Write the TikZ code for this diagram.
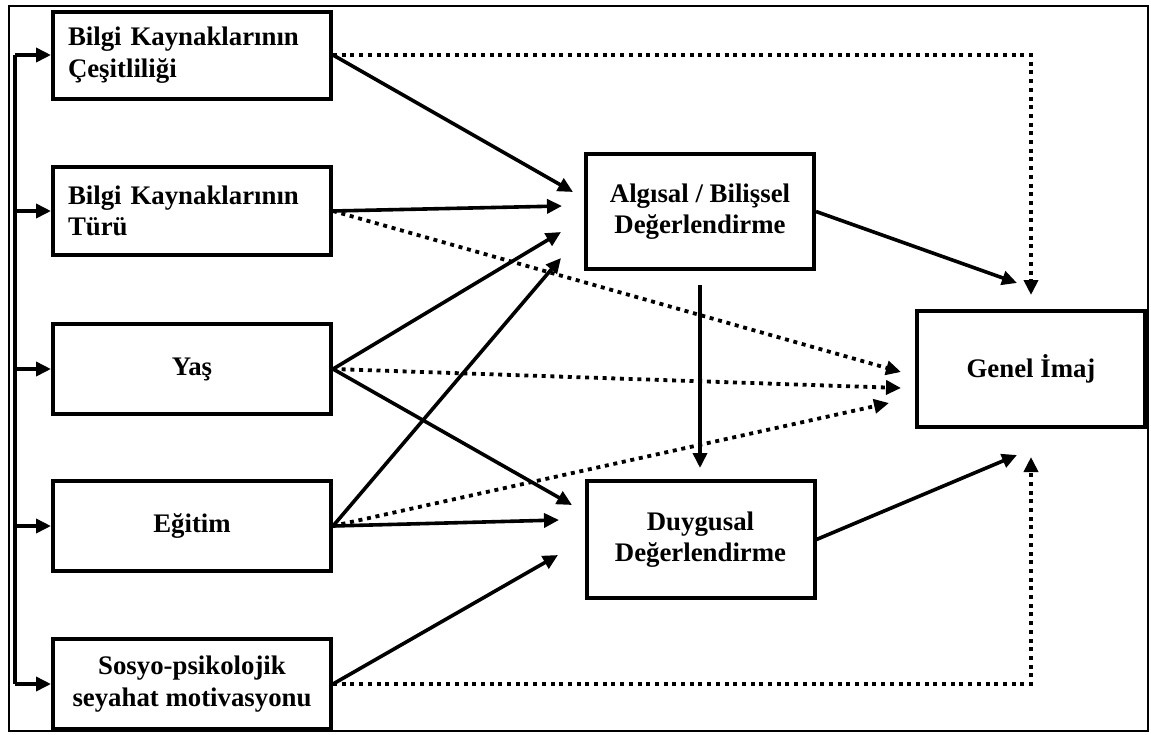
\documentclass[tikz,border=0pt]{standalone}
\usepackage{fontspec}
\setmainfont{Liberation Serif}
\usetikzlibrary{arrows.meta}
\begin{document}
\begin{tikzpicture}[x=1pt,y=-1pt,
  box/.style={draw, line width=4pt, inner sep=0pt, align=center,
    font=\fontsize{26.8}{31.5}\selectfont\bfseries},
  lbox/.style={box, minimum width=278pt, minimum height=88pt},
  lleft/.style={lbox, text width=248pt, inner xsep=15pt, align=left},
  mbox/.style={box, minimum width=228pt, minimum height=116pt},
  conn/.style={line width=3.6pt, -{Triangle[length=15pt,width=14pt]}},
  dotconn/.style={conn, line width=3.8pt, dash pattern=on 4pt off 4.7pt},
  frame/.style={line width=2pt}]
\useasboundingbox (0,0) rectangle (1151,734);
\draw[frame] (9,6) rectangle (1148,731);

% left boxes
\node[lleft, minimum height=87pt] (b1) at (192,55) {Bilgi Kaynaklarının\\Çeşitliliği};
\node[lleft] (b2) at (192,211) {Bilgi Kaynaklarının\\Türü};
\node[lbox, minimum height=90pt] (b3) at (192,369) {Yaş};
\node[lbox, minimum height=90pt] (b4) at (192,526) {Eğitim};
\node[lbox, minimum height=90pt] (b5) at (192,684) {Sosyo-psikolojik\\seyahat motivasyonu};

% middle and right boxes
\node[mbox, minimum height=115pt] (alg) at (700,211.5) {Algısal / Bilişsel\\Değerlendirme};
\node[mbox, minimum height=117pt] (duy) at (700.5,539.5) {Duygusal\\Değerlendirme};
\node[mbox] (gen) at (1031,369) {Genel İmaj};

% spine on the left
\coordinate (sTop) at (15,55);
\coordinate (sBot) at (15,684);
\draw[line width=3.4pt] (sTop) -- (sBot);
\foreach \b in {b1,b2,b3,b4,b5}
  \draw[conn] (sTop |- \b.west) -- (\b.west);

% arrow end points
\coordinate (a1) at (573,192);
\coordinate (a2) at (562,206);
\coordinate (a3) at (561,232);
\coordinate (a4) at (561,258);
\coordinate (d3) at (572,505);
\coordinate (d4) at (559,520);
\coordinate (d5) at (558,555);
\coordinate (gTop) at (1031,295);
\coordinate (gBot) at (1031,457);
\coordinate (gA) at (1017,283);
\coordinate (gD) at (1017,455);
\coordinate (g2) at (901,372);
\coordinate (g3) at (901,388);
\coordinate (g4) at (889,403);
\coordinate (vS) at (700,285);
\coordinate (vE) at (700,468);

% solid arrows
\draw[conn] (b1.east) -- (a1);
\draw[conn] (b2.east) -- (a2);
\draw[conn] (b3.east) -- (a3);
\draw[conn] (b4.east) -- (a4);
\draw[conn] (b3.east) -- (d3);
\draw[conn] (b4.east) -- (d4);
\draw[conn] (b5.east) -- (d5);
\draw[conn] (alg.east) -- (gA);
\draw[conn] (duy.east) -- (gD);
\draw[conn] (vS) -- (vE);

% dotted arrows
\draw[dotconn] (b1.east) -| (gTop);
\draw[dotconn] (b5.east) -| (gBot);
\draw[dotconn] (b2.east) -- (g2);
\draw[dotconn] (b3.east) -- (g3);
\draw[dotconn] (b4.east) -- (g4);
\end{tikzpicture}
\end{document}
